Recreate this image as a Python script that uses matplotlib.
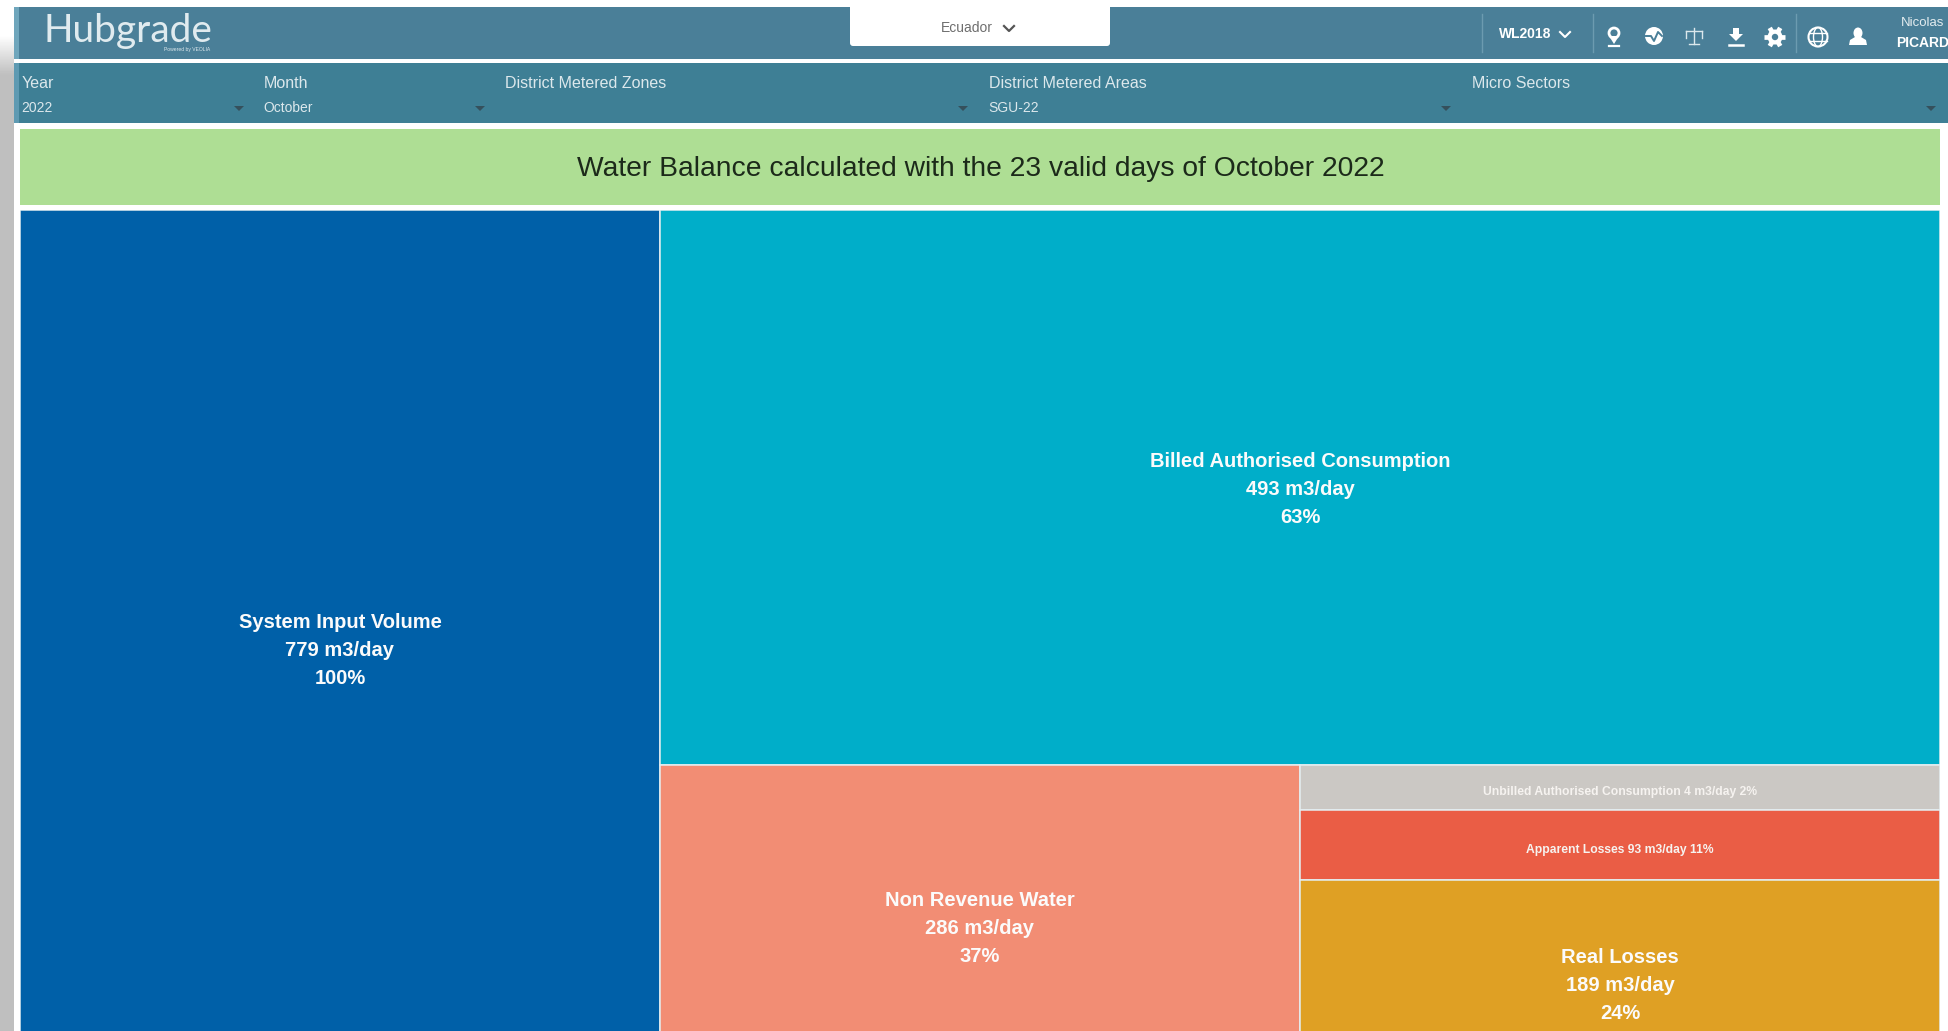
import numpy as np
import matplotlib
matplotlib.use("Agg")
import matplotlib.pyplot as plt
from matplotlib.patches import Rectangle, Circle, Ellipse, FancyBboxPatch, Polygon

plt.rcParams['font.family'] = ['Liberation Sans', 'DejaVu Sans']

# ---- data ----
tile_names = ["System Input Volume", "Billed Authorised Consumption", "Non Revenue Water",
              "Unbilled Authorised Consumption", "Apparent Losses", "Real Losses"]
tile_volumes = [779, 493, 286, 4, 93, 189]
tile_percents = [100, 63, 37, 2, 11, 24]
# heights of the tiles as drawn, % of the full column (small tiles are drawn larger than their value)
tile_shown_share = [100, 63.3, 36.7, 5.1, 8.0, 23.6]
tile_colors = ["#0060A8", "#00AEC9", "#F28D74", "#CBC8C4", "#EA5D45", "#DFA024"]

filter_labels = ["Year", "Month", "District Metered Zones", "District Metered Areas", "Micro Sectors"]
filter_values = ["2022", "October", "", "SGU-22", ""]
chart_title = "Water Balance calculated with the 23 valid days of October 2022"

W, H = 1949, 1031
fig = plt.figure(figsize=(W / 100, H / 100), dpi=100, facecolor="white")

# ---- page furniture in pixel coordinates ----
bg = fig.add_axes([0, 0, 1, 1])
bg.set_xlim(0, W); bg.set_ylim(H, 0); bg.axis("off")

def rect(x0, y0, x1, y1, c, **kw):
    bg.add_patch(Rectangle((x0, y0), x1 - x0, y1 - y0, fc=c, ec="none", **kw))

# grey strip on the left with a fade at its top
grad = np.linspace(1, 0.75, 40)[:, None]
bg.imshow(grad, extent=(0, 14, 75, 35), cmap="gray", vmin=0, vmax=1, aspect="auto", zorder=1)
rect(0, 75, 14, H, "#BFBFBF", zorder=1)
bg.set_xlim(0, W); bg.set_ylim(H, 0)

rect(14, 7, 1948, 59, "#4A7F98", zorder=2)
rect(14, 63, 1948, 123, "#3E7F95", zorder=2)
rect(14, 7, 19, 59, "#6FA6BC", zorder=2)
rect(14, 63, 19, 123, "#5E9AB2", zorder=2)
rect(20, 129, 1940, 205, "#AEDE94", zorder=2)

# logo
bg.text(44, 31, "Hubgrade", family="Lato", fontsize=28, color="#E0EBEF",
        va="center", ha="left", zorder=3)
bg.text(210, 50, "Powered by VEOLIA", fontsize=3.6, color="#DDE8EC", va="center", ha="right", zorder=3)

# country selector
bg.add_patch(FancyBboxPatch((850, 4), 260, 42, boxstyle="round,pad=0,rounding_size=3",
                            fc="white", ec="none", zorder=3))
bg.text(967, 28, "Ecuador", fontsize=10, color="#6E6E6E", ha="center", va="center", zorder=4)
bg.plot([1004, 1009, 1014], [26, 31, 26], color="#555555", lw=1.6, zorder=4)

# right-hand toolbar
for xs in (1482, 1593, 1796):
    bg.plot([xs, xs], [14, 52], color="#6C9BB0", lw=1, zorder=3)
bg.text(1499, 34, "WL2018", fontsize=10, weight="bold", color="white", va="center", zorder=4)
bg.plot([1560, 1565, 1570], [32, 37, 32], color="white", lw=1.5, zorder=4)

# pin
bg.add_patch(Circle((1614, 33), 5, fc="none", ec="white", lw=2, zorder=4))
bg.add_patch(Polygon([[1609, 36], [1619, 36], [1614, 44]], fc="white", ec="none", zorder=4))
bg.plot([1609, 1619], [46, 46], color="white", lw=1.6, zorder=4)
# gauge
bg.add_patch(Circle((1654, 36), 9, fc="white", ec="none", zorder=4))
bg.plot([1646, 1651, 1654, 1658, 1662], [36, 36, 41, 32, 36], color="#4A7F98", lw=1.4, zorder=5)
# scales
bg.plot([1694, 1694], [28, 44], color="#DCE8EC", lw=1, zorder=4)
bg.plot([1686, 1702], [31, 31], color="#DCE8EC", lw=1, zorder=4)
bg.plot([1689, 1699], [44, 44], color="#DCE8EC", lw=1, zorder=4)
bg.plot([1686, 1686], [31, 38], color="#DCE8EC", lw=1, zorder=4)
bg.plot([1702, 1702], [31, 38], color="#DCE8EC", lw=1, zorder=4)
# download
bg.add_patch(Polygon([[1733, 28], [1739, 28], [1739, 34], [1743, 34], [1736, 41], [1729, 34], [1733, 34]],
                     fc="white", ec="none", zorder=4))
bg.plot([1729, 1743], [45, 45], color="white", lw=1.8, zorder=4)
# gear
bg.add_patch(Circle((1775, 37), 7.5, fc="white", ec="none", zorder=4))
for ang in np.arange(0, np.pi, np.pi / 3):
    bg.plot([1775 - 10.5 * np.cos(ang), 1775 + 10.5 * np.cos(ang)],
            [37 - 10.5 * np.sin(ang), 37 + 10.5 * np.sin(ang)], color="white", lw=3.4,
            solid_capstyle="butt", zorder=4)
bg.add_patch(Circle((1775, 37), 3.2, fc="#4A7F98", ec="none", zorder=5))
# globe
bg.add_patch(Circle((1818, 37), 9.5, fc="none", ec="white", lw=1.5, zorder=4))
bg.add_patch(Ellipse((1818, 37), 9, 19, fc="none", ec="white", lw=1, zorder=4))
bg.plot([1809, 1827], [33, 33], color="white", lw=1, zorder=4)
bg.plot([1809, 1827], [41, 41], color="white", lw=1, zorder=4)
# user
bg.add_patch(Ellipse((1858, 33), 9, 11, fc="white", ec="none", zorder=4))
bg.add_patch(Polygon([[1849, 45], [1850, 40], [1855, 37], [1861, 37], [1866, 40], [1867, 45]],
                     fc="white", ec="none", zorder=4))
bg.text(1944, 23, "Nicolas", fontsize=9.5, color="#E3ECEF", ha="right", va="center", zorder=4)
bg.text(1949, 43, "PICARD", fontsize=10, weight="bold", color="white", ha="right", va="center", zorder=4)

# filter bar
filter_label_x = [22, 264, 505, 989, 1472]
arrow_x = [239, 480, 963, 1446, 1931]
for lx, ax_, lab, val in zip(filter_label_x, arrow_x, filter_labels, filter_values):
    bg.text(lx, 83, lab, fontsize=11.5, color="#DCE8EC", va="center", zorder=4)
    if val:
        bg.text(lx - 1, 108, val, fontsize=10, color="#DCE8EC", va="center", zorder=4)
    bg.add_patch(Polygon([[ax_ - 5, 106], [ax_ + 5, 106], [ax_, 111]], fc="#35505C", ec="none", zorder=4))

# banner
bg.text(981, 169, chart_title, fontsize=20.3, color="#1C2A1A", ha="center", va="center", zorder=4)

# ---- treemap: 3 equal columns, y is % of the column, cropped by the page ----
tx0, tx1, ty0, ty1 = 20, 1940, 210, 1031
ax = fig.add_axes([tx0 / W, 1 - ty1 / H, (tx1 - tx0) / W, (ty1 - ty0) / H])
ax.set_xlim(0, 3)
ax.set_ylim(93.6, 0)
ax.axis("off")

def tile(i, x, w, y):
    h = tile_shown_share[i]
    ax.add_patch(Rectangle((x, y), w, h, fc=tile_colors[i], ec="#E4EEF1", lw=1.1))
    sx, sy = x + w / 2, y + h / 2
    if h < 10:
        txt = f"{tile_names[i]} {tile_volumes[i]} m3/day {tile_percents[i]}%"
        ax.annotate(txt, (sx, sy), xytext=(0, -3.5), textcoords="offset points",
                    fontsize=8.7, weight="bold", color="#F6F3F0", ha="center", va="center")
    else:
        txt = f"{tile_names[i]}\n{tile_volumes[i]} m3/day\n{tile_percents[i]}%"
        ax.annotate(txt, (sx, sy), xytext=(0, -1.5), textcoords="offset points",
                    fontsize=14.5, weight="bold", color="#FBFBFB", ha="center", va="center",
                    linespacing=1.6, annotation_clip=False)

tile(0, 0, 1, 0)
tile(1, 1, 2, 0)
tile(2, 1, 1, tile_shown_share[1])
y = tile_shown_share[1]
for i in (3, 4, 5):
    tile(i, 2, 1, y)
    y += tile_shown_share[i]

fig.savefig("out.png", dpi=100)
